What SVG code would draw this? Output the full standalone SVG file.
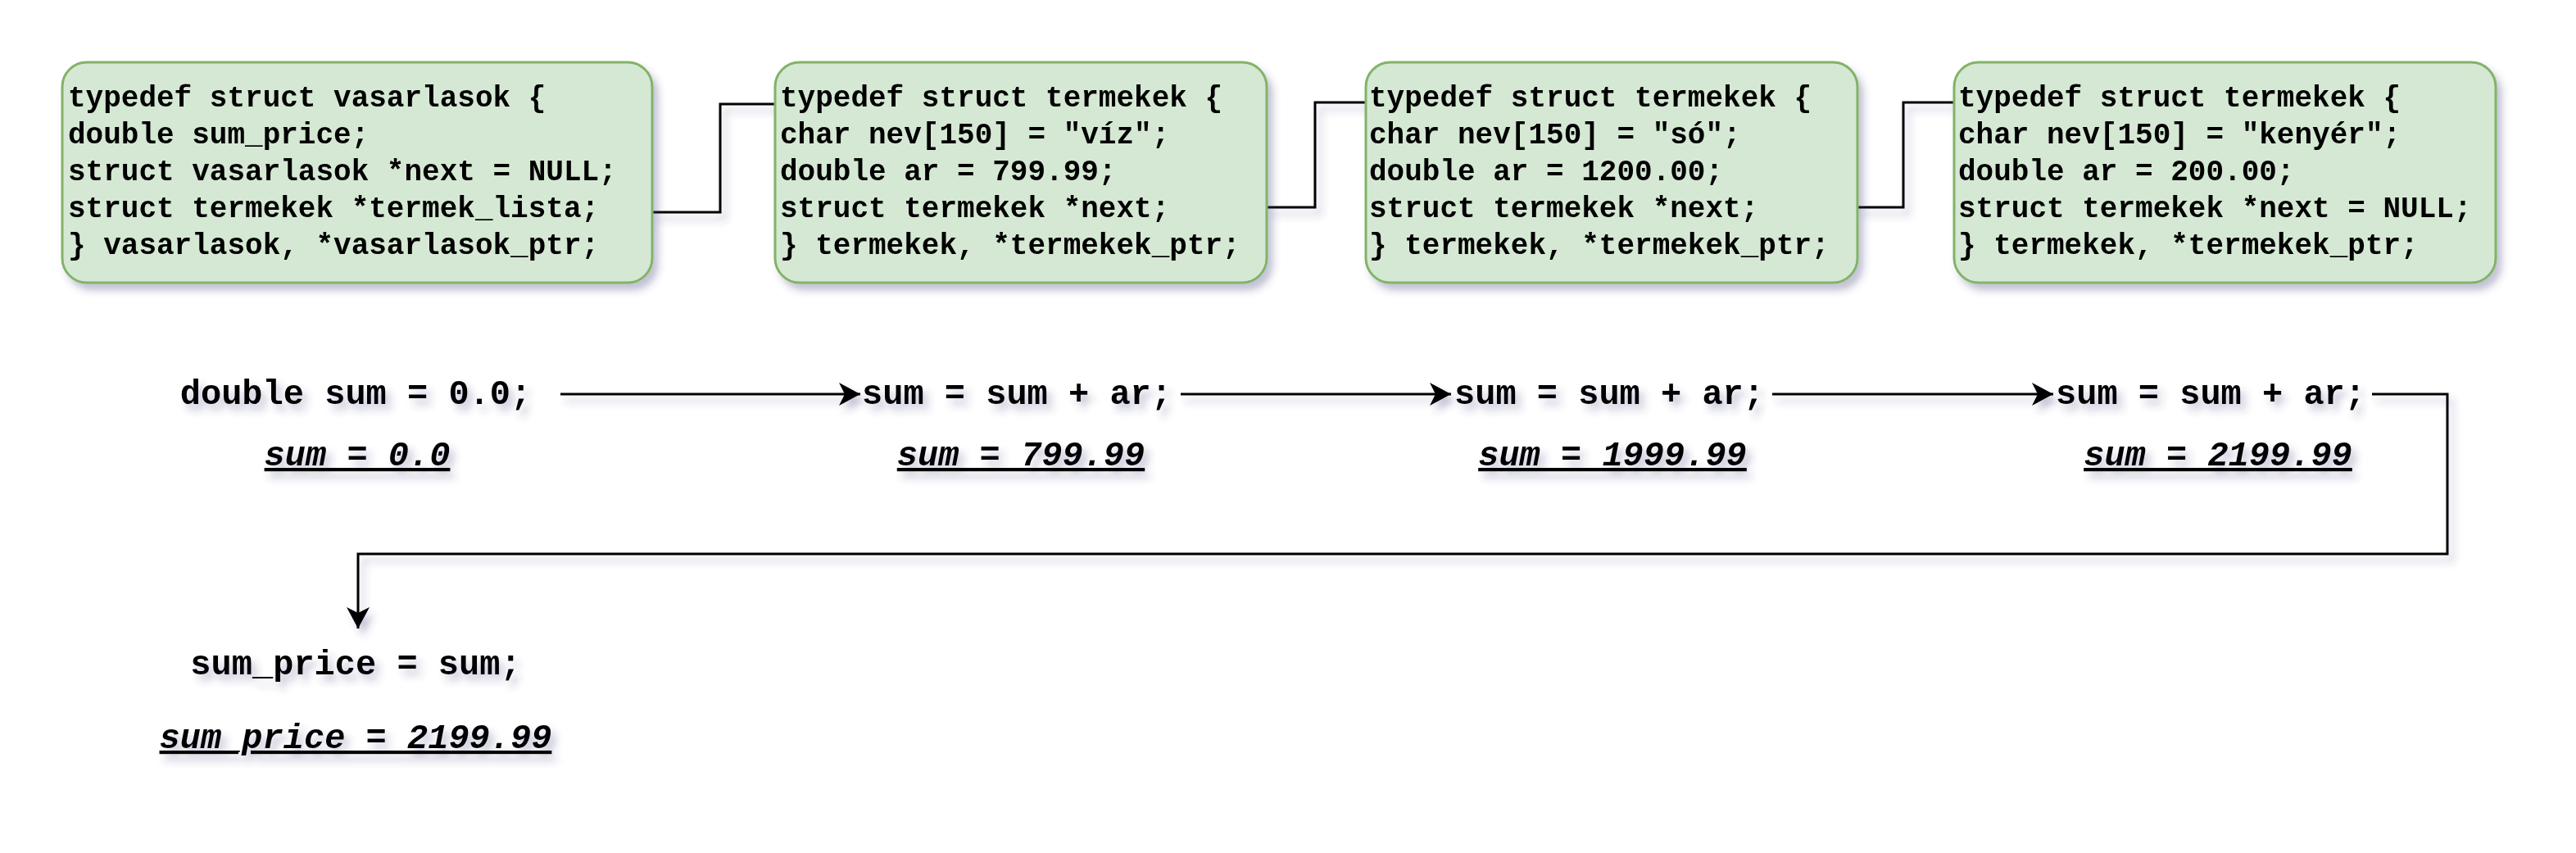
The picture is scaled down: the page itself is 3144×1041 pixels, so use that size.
<svg xmlns="http://www.w3.org/2000/svg" width="3144" height="1041" viewBox="0 0 3144 1041">
<style>
.box{fill:#d5e8d4;stroke:#82b366;stroke-width:3}
.code{font-family:"Liberation Mono","Courier New",monospace;font-weight:bold;font-size:36px;fill:#000}
.stmt{font-family:"Liberation Mono","Courier New",monospace;font-weight:bold;font-size:42px;fill:#000;text-anchor:middle}
.res{font-family:"Liberation Mono","Courier New",monospace;font-weight:bold;font-style:italic;font-size:42px;fill:#000;text-anchor:middle;text-decoration:underline}
.conn{fill:none;stroke:#000;stroke-width:3}
</style>
<defs>
<filter id="sh" x="-10%" y="-20%" width="130%" height="160%">
<feDropShadow dx="6" dy="8" stdDeviation="5" flood-color="#3c3c7a" flood-opacity="0.32"/>
</filter>
<marker id="arr" markerUnits="userSpaceOnUse" markerWidth="34" markerHeight="34" viewBox="-2 -17 34 34" refX="26" refY="0" orient="auto">
<path d="M0,-14 L26,0 L0,14 L7,0 Z" fill="#000"/>
</marker>
</defs>
<rect width="3144" height="1041" fill="#fff"/>

<g id="connectors" filter="url(#sh)">
<path class="conn" d="M796,259 H879 V127 H946"/>
<path class="conn" d="M1546,253 H1605 V125 H1667"/>
<path class="conn" d="M2266,253 H2323 V125 H2385"/>
<path class="conn" d="M684,481 H1050" marker-end="url(#arr)"/>
<path class="conn" d="M1441,481 H1771" marker-end="url(#arr)"/>
<path class="conn" d="M2163,481 H2506" marker-end="url(#arr)"/>
<path class="conn" d="M2895,481 H2987 V676 H437 V767" marker-end="url(#arr)"/>
</g>

<g id="vasarlasok" filter="url(#sh)">
<rect class="box" x="76" y="76" width="720" height="269" rx="30"/>
<text class="code"><tspan x="83" y="130">typedef struct vasarlasok {</tspan><tspan x="83" y="175">double sum_price;</tspan><tspan x="83" y="220">struct vasarlasok *next = NULL;</tspan><tspan x="83" y="265">struct termekek *termek_lista;</tspan><tspan x="83" y="310">} vasarlasok, *vasarlasok_ptr;</tspan></text>
</g>

<g id="termek1" filter="url(#sh)">
<rect class="box" x="946" y="76" width="600" height="269" rx="30"/>
<text class="code"><tspan x="952" y="130">typedef struct termekek {</tspan><tspan x="952" y="175">char nev[150] = "víz";</tspan><tspan x="952" y="220">double ar = 799.99;</tspan><tspan x="952" y="265">struct termekek *next;</tspan><tspan x="952" y="310">} termekek, *termekek_ptr;</tspan></text>
</g>

<g id="termek2" filter="url(#sh)">
<rect class="box" x="1667" y="76" width="600" height="269" rx="30"/>
<text class="code"><tspan x="1671" y="130">typedef struct termekek {</tspan><tspan x="1671" y="175">char nev[150] = "só";</tspan><tspan x="1671" y="220">double ar = 1200.00;</tspan><tspan x="1671" y="265">struct termekek *next;</tspan><tspan x="1671" y="310">} termekek, *termekek_ptr;</tspan></text>
</g>

<g id="termek3" filter="url(#sh)">
<rect class="box" x="2385" y="76" width="661" height="269" rx="30"/>
<text class="code"><tspan x="2390" y="130">typedef struct termekek {</tspan><tspan x="2390" y="175">char nev[150] = "kenyér";</tspan><tspan x="2390" y="220">double ar = 200.00;</tspan><tspan x="2390" y="265">struct termekek *next = NULL;</tspan><tspan x="2390" y="310">} termekek, *termekek_ptr;</tspan></text>
</g>

<g id="step0" filter="url(#sh)">
<text class="stmt" x="434" y="493">double sum = 0.0;</text>
<text class="res" x="436" y="568">sum = 0.0</text>
</g>
<g id="step1" filter="url(#sh)">
<text class="stmt" x="1241" y="493">sum = sum + ar;</text>
<text class="res" x="1246" y="568">sum = 799.99</text>
</g>
<g id="step2" filter="url(#sh)">
<text class="stmt" x="1964" y="493">sum = sum + ar;</text>
<text class="res" x="1968" y="568">sum = 1999.99</text>
</g>
<g id="step3" filter="url(#sh)">
<text class="stmt" x="2698" y="493">sum = sum + ar;</text>
<text class="res" x="2707" y="568">sum = 2199.99</text>
</g>
<g id="final" filter="url(#sh)">
<text class="stmt" x="434" y="823">sum_price = sum;</text>
<text class="res" x="434" y="913">sum_price = 2199.99</text>
</g>
</svg>
